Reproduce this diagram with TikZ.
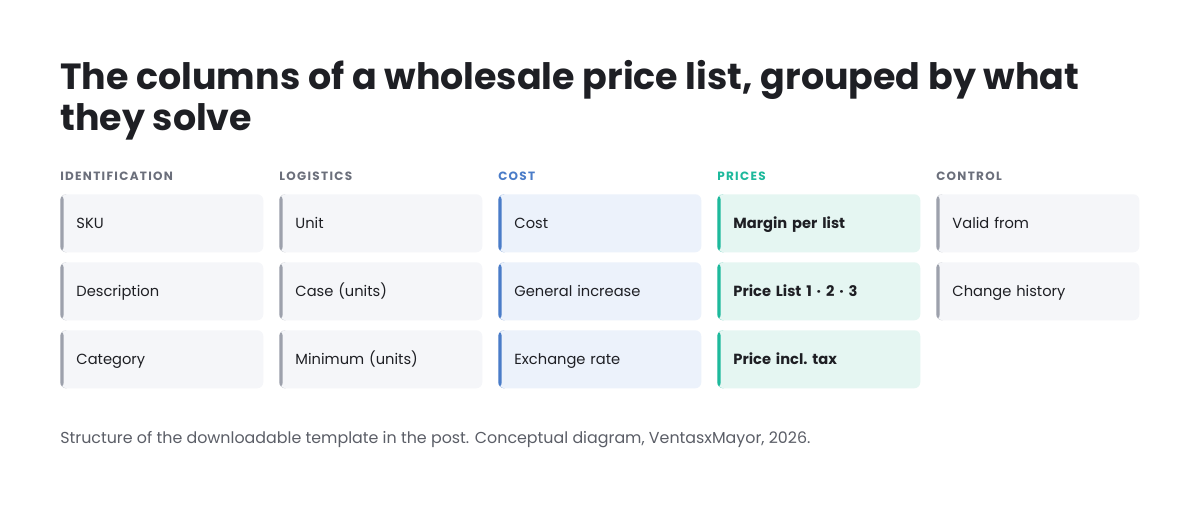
\documentclass[tikz,border=0pt]{standalone}
\usepackage{fontspec}
\setmainfont{Poppins}
\usetikzlibrary{positioning}

\definecolor{inkdark}{HTML}{1E1F24}
\definecolor{capgray}{HTML}{5B5E67}
\definecolor{idbar}{HTML}{9DA1AC}
\definecolor{idfill}{HTML}{F5F6F9}
\definecolor{idhead}{HTML}{6B6F7B}
\definecolor{costbar}{HTML}{4A7CC8}
\definecolor{costfill}{HTML}{ECF2FB}
\definecolor{pricebar}{HTML}{1DB99C}
\definecolor{pricefill}{HTML}{E5F6F2}

\tikzset{
  cell/.style 2 args={rectangle, rounded corners=4.5pt, fill=#1,
    minimum width=152.25pt, minimum height=43.5pt, anchor=north west,
    text width=128pt, align=left, inner xsep=12pt, inner ysep=0pt,
    text height=9.6pt, text depth=1.2pt,
    font=\fontsize{11}{14}\selectfont, text=inkdark,
    path picture={\fill[#2] (path picture bounding box.north west)
      rectangle ([xshift=2.6pt]path picture bounding box.south west);}},
  boldcell/.style={font=\fontsize{11}{14}\selectfont\bfseries},
  head/.style={anchor=west, inner sep=0pt, text=#1,
    font=\fontsize{9}{10}\selectfont\bfseries\addfontfeature{LetterSpace=11}},
}

\begin{document}
\begin{tikzpicture}[x=0.75pt,y=-0.75pt]
\fill[white] (0,0) rectangle (1200,520);
\useasboundingbox (0,0) rectangle (1200,520);
%
\node[anchor=base west, inner sep=0pt, align=left, text=inkdark,
  font=\fontsize{27.3}{30.75}\selectfont\bfseries] (title) at (60,131)
  {The columns of a wholesale price list, grouped by what\\they solve};
%
\node[head=idhead] (hId) at (60,176) {IDENTIFICATION};
\node[head=idhead] (hLog) at (279,176) {LOGISTICS};
\node[head=costbar] (hCost) at (498,176) {COST};
\node[head=pricebar] (hPrice) at (717,176) {PRICES};
\node[head=idhead] (hCtl) at (936,176) {CONTROL};
%
\node[cell={idfill}{idbar}] (sku) at (60,194) {SKU};
\node[cell={idfill}{idbar}] (desc) at (60,262) {Description};
\node[cell={idfill}{idbar}] (cat) at (60,330) {Category};
%
\node[cell={idfill}{idbar}] (unit) at (279,194) {Unit};
\node[cell={idfill}{idbar}] (case) at (279,262) {Case (units)};
\node[cell={idfill}{idbar}] (minu) at (279,330) {Minimum (units)};
%
\node[cell={costfill}{costbar}] (cost) at (498,194) {Cost};
\node[cell={costfill}{costbar}] (incr) at (498,262) {General increase};
\node[cell={costfill}{costbar}] (rate) at (498,330) {Exchange rate};
%
\node[cell={pricefill}{pricebar}, boldcell] (margin) at (717,194) {Margin per list};
\node[cell={pricefill}{pricebar}, boldcell] (lists) at (717,262) {Price List 1 · 2 · 3};
\node[cell={pricefill}{pricebar}, boldcell] (tax) at (717,330) {Price incl.\ tax};
%
\node[cell={idfill}{idbar}] (valid) at (936,194) {Valid from};
\node[cell={idfill}{idbar}] (hist) at (936,262) {Change history};
%
\node[anchor=base west, inner sep=0pt, text=capgray,
  font=\fontsize{11.9}{14}\selectfont] (caption) at (60,443)
  {Structure of the downloadable template in the post. Conceptual diagram, VentasxMayor, 2026.};
\end{tikzpicture}
\end{document}
